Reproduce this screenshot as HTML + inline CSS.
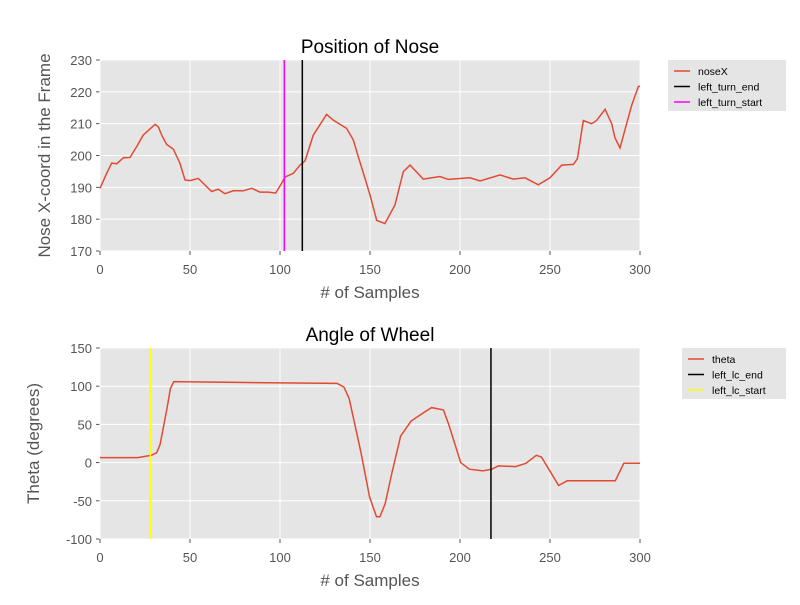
<!DOCTYPE html>
<html><head><meta charset="utf-8"><style>
body{margin:0;background:#fff;}
svg text{font-family:"Liberation Sans",sans-serif;}
</style></head><body>
<svg id="c" width="800" height="600" xmlns="http://www.w3.org/2000/svg"></svg>
<script>
const noseSamples=[0,3.7,6.5,9.3,13,16.7,20.4,24,30.6,32.4,34.3,37,40.7,44.4,47.2,50,54.6,62,65.7,69.4,74,79.6,84.3,88.9,93.5,97.6,100.9,102.8,107.4,111.1,113.9,118.5,125.9,129.6,137,140.7,143.5,147.2,150,153.7,158.3,163.9,168.5,172.2,179.6,188.9,193.5,205.6,211.1,222.2,229.6,236.1,243.5,250,256.5,263,265.2,268.5,273.1,275.9,280.6,284.3,286.1,288.9,295.4,299.1,300];
const noseX=[189.7,194.4,197.6,197.4,199.3,199.4,202.8,206.4,209.8,209,206.4,203.5,202,197.6,192.3,192.1,192.8,188.7,189.4,188,188.9,188.9,189.7,188.5,188.5,188.2,191.3,193.2,194.4,197,198.3,206.4,212.9,211.1,208.5,204.9,199.6,192.8,187.6,179.6,178.6,184.5,194.9,197,192.6,193.4,192.5,193,192,193.9,192.6,193,190.8,193,197,197.2,199,211,210,211,214.5,210,205.5,202.4,215.8,221.7,221.7];
const thetaSamples=[0,21,28.6,31.5,33.4,37.2,39.1,41,76.3,131.7,135.5,138.4,142.2,145,149.8,153.6,155.5,158.4,162.2,167,172.7,179.4,184.2,190.8,193.7,200.4,205.2,212.8,217.6,221.4,230.9,236.6,242.4,245.2,249,254.8,259.5,286.3,291,298.7,300];
const theta=[6.5,6.5,9.5,13,23.8,71,97,106,105,103.7,99,84,43,13,-45,-71,-71,-54,-13,34.6,54,64.8,72,69,50,0,-8.6,-10.8,-8.6,-4.3,-5.2,-0.9,9.5,7.3,-7.3,-30,-23.8,-23.8,-0.9,-0.9,-0.9];
const xTicks=[0,50,100,150,200,250,300];
const topYTicks=[170,180,190,200,210,220,230];
const botYTicks=[-100,-50,0,50,100,150];
const topVLines=[{v:112.4,c:"#000",n:"left_turn_end"},{v:102.4,c:"#ff00ff",n:"left_turn_start"}];
const botVLines=[{v:217.2,c:"#000",n:"left_lc_end"},{v:28,c:"#ffff00",n:"left_lc_start"}];

const svg=document.getElementById('c');
const NS="http://www.w3.org/2000/svg";
function mk(t,a,p){const e=document.createElementNS(NS,t);for(const k in a)e.setAttribute(k,a[k]);(p||svg).appendChild(e);return e;}

function panel(o){
  const g=mk('g',{});
  
  
  const L=100,R=640,T=o.top,B=o.top+191;
  const sx=v=>L+(v-0)/300*(R-L);
  const sy=v=>B-(v-o.ymin)/(o.ymax-o.ymin)*(B-T);
  const bg=mk('rect',{x:L,y:T,width:R-L,height:B-T,fill:'#e5e5e5'},g);
  
  
  o.yt.forEach(v=>{
    mk('line',{x1:L,x2:R,y1:sy(v),y2:sy(v),stroke:'#fff','stroke-width':1},g);
    mk('line',{x1:L-4,x2:L,y1:sy(v),y2:sy(v),stroke:'#555'},g);
    const t=mk('text',{x:L-8,y:sy(v)+5,'text-anchor':'end','font-size':13,fill:'#555'},g);t.textContent=v;
    
    
  });
  xTicks.forEach(v=>{
    mk('line',{x1:sx(v),x2:sx(v),y1:T,y2:B,stroke:'#fff','stroke-width':1},g);
    mk('line',{x1:sx(v),x2:sx(v),y1:B,y2:B+4,stroke:'#555'},g);
    const t=mk('text',{x:sx(v),y:B+23,'text-anchor':'middle','font-size':13,fill:'#555'},g);t.textContent=v;
    
    
  });
  let d='';o.xs.forEach((s,i)=>{d+=(i?'L':'M')+sx(s).toFixed(1)+','+sy(o.ys[i]).toFixed(1);});
  const p=mk('path',{d:d,fill:'none',stroke:'#e24a33','stroke-width':1.5},g);
  
  
  o.vl.forEach(l=>{
    const e=mk('line',{x1:sx(l.v),x2:sx(l.v),y1:T,y2:B,stroke:l.c,'stroke-width':1.5},g);
    
    
  });
  const tt=mk('text',{x:370,y:T-7,'text-anchor':'middle','font-size':19,fill:'#000'},g);tt.textContent=o.title;
  
  
  const xl=mk('text',{x:370,y:B+47,'text-anchor':'middle','font-size':17,fill:'#555'},g);xl.textContent='# of Samples';
  
  
  const yl=mk('text',{x:0,y:0,'text-anchor':'middle','font-size':17,fill:'#555',transform:`translate(${o.ylx},${(T+B)/2}) rotate(-90)`},g);yl.textContent=o.ylabel;
  
  
  const lg=mk('g',{},g);
  
  
  mk('rect',{x:o.lx,y:T,width:786-o.lx,height:51,fill:'#e5e5e5'},lg);
  const items=[{n:o.series,c:'#e24a33'}].concat(o.vl.map(l=>({n:l.n,c:l.c})));
  items.forEach((it,i)=>{
    const y=T+11+i*15.5;
    mk('line',{x1:o.lx+6,x2:o.lx+22,y1:y,y2:y,stroke:it.c,'stroke-width':1.5},lg);
    const t=mk('text',{x:o.lx+30,y:y+4,'font-size':10.5,fill:'#000'},lg);t.textContent=it.n;
    
    
  });
}
panel({name:'nose-position-panel',top:60,ymin:170,ymax:230,yt:topYTicks,xs:noseSamples,ys:noseX,vl:topVLines,title:'Position of Nose',ylabel:'Nose X-coord in the Frame',ylx:50,series:'noseX',lx:668});
panel({name:'wheel-angle-panel',top:348,ymin:-100,ymax:150,yt:botYTicks,xs:thetaSamples,ys:theta,vl:botVLines,title:'Angle of Wheel',ylabel:'Theta (degrees)',ylx:39,series:'theta',lx:682});
</script>
</body></html>
